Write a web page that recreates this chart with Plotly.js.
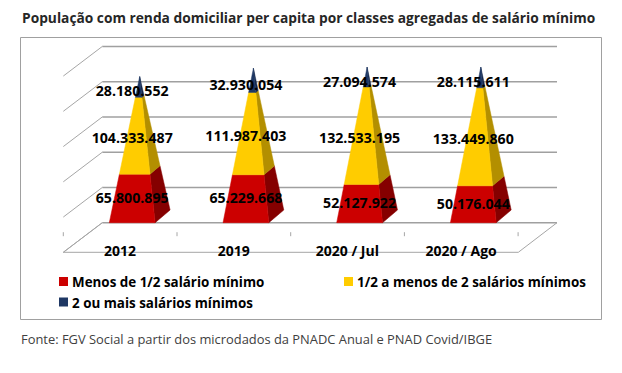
<!DOCTYPE html>
<html><head><meta charset="utf-8">
<script src="https://cdn.plot.ly/plotly-3.0.1.min.js"></script>
<style>html,body{margin:0;padding:0;background:#fff}</style></head>
<body><div id="chart" style="width:622px;height:373px"></div>
<script>
const categories = ['2012','2019','2020 / Jul','2020 / Ago'];
const menosMeio = [65800895,65229668,52127922,50176044];
const meioADois = [104333487,111987403,132533195,133449860];
const doisOuMais = [28180552,32930054,27094574,28115611];
const seriesNames = ['Menos de 1/2 salário mínimo','1/2 a menos de 2 salários mínimos','2 ou mais salários mínimos'];
const frontColors = ['#CC0000','#FFCC00','#1F3864'];
const sideColors = ['#850000','#B38F00','#15274A'];
const gridValues = [0,50,100,150,200,250];
const titleText = 'População com renda domiciliar per capita por classes agregadas de salário mínimo';
const sourceText = 'Fonte: FGV Social a partir dos microdados da PNADC Anual e PNAD Covid/IBGE';

const W=622,H=373, catPx=113.7, x0Px=132.2, y0Px=222.7, pxPerM=0.705;
const xr=[(0-x0Px)/catPx,(W-x0Px)/catPx];
const yr=[(y0Px-H)/pxPerM,(y0Px-0)/pxPerM];
const dx=v=>v/catPx, dy=v=>v/pxPerM;
const halfW=dx(22.9), depX=dx(15), depY=dy(12.7);
const series=[menosMeio,meioADois,doisOuMais];
const fmt=n=>String(n).replace(/\B(?=(\d{3})+$)/g,'.');
const font='"Open Sans", sans-serif';
const traces=[];
function poly(xs,ys,fc,line){traces.push({type:'scatter',mode:'lines',x:xs.concat(xs[0]),y:ys.concat(ys[0]),fill:'toself',fillcolor:fc,line:{color:line||fc,width:0.5},hoverinfo:'skip',showlegend:false});}
function ln(xs,ys,c,w){traces.push({type:'scatter',mode:'lines',x:xs,y:ys,line:{color:c||'#A6A6A6',width:w||1},hoverinfo:'skip',showlegend:false});}

// wall / floor, in data units
const wallL=dx(102.3-x0Px), wallR=dx(557-x0Px), frontL=dx(63.3-x0Px), frontR=dx(518.3-x0Px), floorY=-dy(29.6);
gridValues.forEach(g=>ln([wallL,wallR],[g,g],'#A0A0A0',1.5));
gridValues.forEach(g=>ln([wallL,frontL],[g,g+floorY],'#A6A6A6',1));
ln([wallL,frontL,frontR,wallR],[0,floorY,floorY,0],'#A6A6A6',1);
for(let i=0;i<=4;i++){const t=frontL+i; ln([t,t],[-dy(9.5),-dy(13.5)],'#A6A6A6',1);}

// pyramids
categories.forEach((c,i)=>{
  const total=series.reduce((s,a)=>s+a[i],0)/1e6;
  const ax=i+depX/2, ay=total+depY/2;
  const pt=(fx,fy,frac)=>[fx+(ax-fx)*frac, fy+(ay-fy)*frac];
  let cum=0;
  series.forEach((arr,k)=>{
    const v=arr[i]/1e6, f0=cum/total, f1=(cum+v)/total;
    const a=pt(i-halfW,0,f0),b=pt(i+halfW,0,f0),c2=pt(i+halfW+depX,depY,f0);
    const d=pt(i+halfW+depX,depY,f1),e=pt(i+halfW,0,f1),g=pt(i-halfW,0,f1);
    poly([b[0],c2[0],d[0],e[0]],[b[1],c2[1],d[1],e[1]],sideColors[k]);
    poly([a[0],b[0],e[0],g[0]],[a[1],b[1],e[1],g[1]],frontColors[k]);
    cum+=v;
  });
});
// value labels
const lx=[],ly=[],lt=[];
categories.forEach((c,i)=>{let cum=0;series.forEach(arr=>{const v=arr[i]/1e6;lx.push(i);ly.push(cum+v/2);lt.push(fmt(arr[i]));cum+=v;});});
traces.push({type:'scatter',mode:'text',x:lx,y:ly,text:lt,textposition:'middle center',textfont:{family:font,size:14.2,color:'#000',weight:700},hoverinfo:'skip',showlegend:false,cliponaxis:false});
// category labels
traces.push({type:'scatter',mode:'text',x:categories.map((c,i)=>i-dx(12.2)),y:categories.map(()=>floorY),text:categories,textposition:'middle center',textfont:{family:font,size:14,color:'#000',weight:700},hoverinfo:'skip',showlegend:false});

const px=v=>v/W, py=v=>1-v/H;
const legend=[[59,282,0],[344,282,1],[59,302.5,2]];
const annotations=[
 {xref:'paper',yref:'paper',x:px(19.5),y:py(17),xanchor:'left',yanchor:'middle',text:'<b>'+titleText+'</b>',showarrow:false,font:{family:font,size:13.75,color:'#262626'}},
 {xref:'paper',yref:'paper',x:px(19),y:py(339),xanchor:'left',yanchor:'middle',text:sourceText,showarrow:false,font:{family:font,size:12.9,color:'#404040'}}
];
const shapes=[{type:'rect',xref:'paper',yref:'paper',x0:px(20.5),x1:px(601.5),y0:py(37.5),y1:py(319.5),line:{color:'#A0A0A0',width:1},fillcolor:'rgba(0,0,0,0)',layer:'below'}];
legend.forEach(([x,y,k])=>{
 shapes.push({type:'rect',xref:'paper',yref:'paper',x0:px(x),x1:px(x+9),y0:py(y-5),y1:py(y+4),fillcolor:frontColors[k],line:{width:0}});
 annotations.push({xref:'paper',yref:'paper',x:px(x+10.5),y:py(y),xanchor:'left',yanchor:'middle',text:'<b>'+seriesNames[k]+'</b>',showarrow:false,font:{family:font,size:13.4,color:'#000'}});
});
Plotly.newPlot('chart',traces,{width:W,height:H,margin:{l:0,r:0,t:0,b:0},paper_bgcolor:'#fff',plot_bgcolor:'#fff',showlegend:false,
 xaxis:{range:xr,visible:false,fixedrange:true},yaxis:{range:yr,visible:false,fixedrange:true},annotations,shapes},{displayModeBar:false,staticPlot:true});
</script></body></html>
